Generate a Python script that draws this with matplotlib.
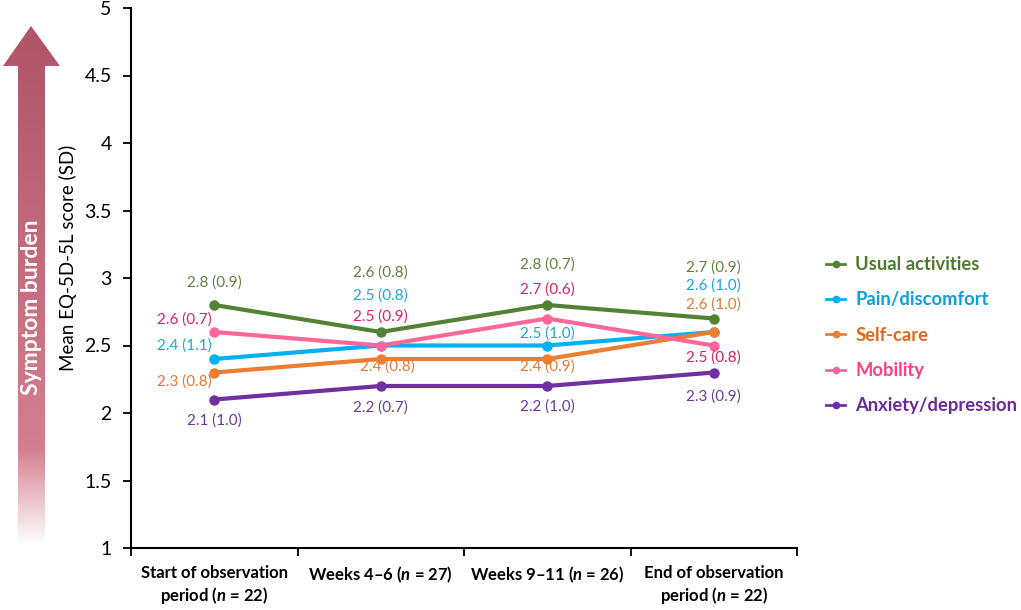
import matplotlib
matplotlib.use("Agg")
import matplotlib.pyplot as plt
import numpy as np
from matplotlib.patches import Polygon
from matplotlib.lines import Line2D

plt.rcParams['font.family'] = ['Lato', 'DejaVu Sans']
plt.rcParams['mathtext.fontset'] = 'custom'
plt.rcParams['mathtext.it'] = 'Lato:italic:bold'
plt.rcParams['mathtext.rm'] = 'Lato:bold'

categories = ["Start of observation\nperiod ($n$ = 22)", "Weeks 4\u20136 ($n$ = 27)",
              "Weeks 9\u201311 ($n$ = 26)", "End of observation\nperiod ($n$ = 22)"]
series_names = ["Usual activities", "Pain/discomfort", "Self-care", "Mobility", "Anxiety/depression"]
usual_mean = [2.8, 2.6, 2.8, 2.7]
usual_sd = [0.9, 0.8, 0.7, 0.9]
pain_mean = [2.4, 2.5, 2.5, 2.6]
pain_sd = [1.1, 0.8, 1.0, 1.0]
self_mean = [2.3, 2.4, 2.4, 2.6]
self_sd = [0.8, 0.8, 0.9, 1.0]
mob_mean = [2.6, 2.5, 2.7, 2.5]
mob_sd = [0.7, 0.9, 0.6, 0.8]
anx_mean = [2.1, 2.2, 2.2, 2.3]
anx_sd = [1.0, 0.7, 1.0, 0.9]
y_ticks = [1, 1.5, 2, 2.5, 3, 3.5, 4, 4.5, 5]

means = [usual_mean, pain_mean, self_mean, mob_mean, anx_mean]
sds = [usual_sd, pain_sd, self_sd, mob_sd, anx_sd]
line_colors = ["#548235", "#00b0f0", "#ed7d31", "#ff6699", "#7030a0"]
text_colors = ["#5f8240", "#1ea6da", "#e27a34", "#dc1f66", "#6a3a98"]
legend_colors = ["#4f7a2e", "#0aa0dc", "#e0681a", "#ff3f85", "#6a2a9a"]

# label offsets in pixels (dx, dy) per series per category (dy positive = up)
offsets = [
    [(0, 22), (0, 59), (0, 40), (0, 51)],
    [(-30, 13), (0, 50), (0, 12), (0, 46)],
    [(-30, -9), (7, -8), (0, -8), (0, 27)],
    [(-30, 12), (0, 29), (0, 29), (0, -12)],
    [(0, -21), (0, -22), (0, -21), (0, -24)],
]

W, H = 1021, 610
fig = plt.figure(figsize=(W / 100, H / 100), dpi=100)
ax = fig.add_axes([131 / W, 1 - 548 / H, (797 - 131) / W, (548 - 8) / H])

x = np.arange(len(categories))
for i in range(len(series_names)):
    ax.plot(x, means[i], color=line_colors[i], lw=3, marker='o', ms=6.5,
            label=series_names[i], zorder=3, solid_capstyle='round')
    for j in range(len(x)):
        dx, dy = offsets[i][j]
        ax.annotate(f"{means[i][j]:.1f} ({sds[i][j]:.1f})", (x[j], means[i][j]),
                    xytext=(dx, dy), textcoords='offset pixels', ha='center', va='center',
                    color=text_colors[i], fontsize=11)

ax.set_xlim(-0.5, 3.5)
ax.set_ylim(1, 5)
ax.set_yticks(y_ticks)
ax.set_yticklabels([f"{t:g}" for t in y_ticks], fontsize=14)
ax.set_xticks([-0.5, 0.5, 1.5, 2.5, 3.5])
ax.set_xticklabels([])
ax.set_xticks(x, minor=True)
ax.set_xticklabels(categories, minor=True, fontsize=12, fontweight='bold', linespacing=1.3)
ax.tick_params(axis='x', which='minor', length=0, pad=12)
ax.tick_params(axis='x', which='major', length=6, width=1.3, direction='out')
ax.tick_params(axis='y', length=6, width=1.3, direction='out', pad=8)
for s in ['top', 'right']:
    ax.spines[s].set_visible(False)
for s in ['left', 'bottom']:
    ax.spines[s].set_linewidth(1.5)

fig.text(68 / W, 1 - 258 / H, "Mean EQ-5D-5L score (SD)", rotation=90, ha='center', va='center',
         fontsize=13.5)

hs = [Line2D([0], [0], color=line_colors[i], lw=2, marker='o', ms=4.5) for i in range(5)]
leg = fig.legend(hs, series_names, loc='upper left', bbox_to_anchor=(826 / W, 1 - 256 / H),
                 frameon=False, borderpad=0, borderaxespad=0, handlelength=1.05,
                 handletextpad=0.55, labelspacing=1.0,
                 prop={'weight': 'bold', 'size': 13.2})
for t, c in zip(leg.get_texts(), legend_colors):
    t.set_color(c)

# Symptom burden arrow
oax = fig.add_axes([0, 0, 1, 1], zorder=-1)
oax.set_xlim(0, W)
oax.set_ylim(H, 0)
oax.axis('off')
ys = np.linspace(26, 550, 400)
top_col = np.array([0.69, 0.33, 0.41])
mid_col = np.array([0.83, 0.50, 0.56])
img = np.ones((len(ys), 2, 3))
for n, yy in enumerate(ys):
    if yy <= 450:
        f = (yy - 26) / (450 - 26)
        c = top_col + (mid_col - top_col) * f
    else:
        f = min(1.0, (yy - 450) / (545 - 450))
        c = mid_col + (1 - mid_col) * f
    img[n, :, :] = c
arrow = Polygon([[31, 26], [60, 66], [45, 66], [45, 550], [18, 550], [18, 66], [3, 66]],
                closed=True, facecolor='none', edgecolor='none')
oax.add_patch(arrow)
im = oax.imshow(img, extent=[0, 70, 550, 26], aspect='auto', zorder=1)
im.set_clip_path(arrow)
oax.text(31, 307, "Symptom burden", rotation=90, ha='center', va='center', color='white',
         fontsize=16.5, fontweight='bold', zorder=2)

fig.savefig("out.png", dpi=100, facecolor='white')
